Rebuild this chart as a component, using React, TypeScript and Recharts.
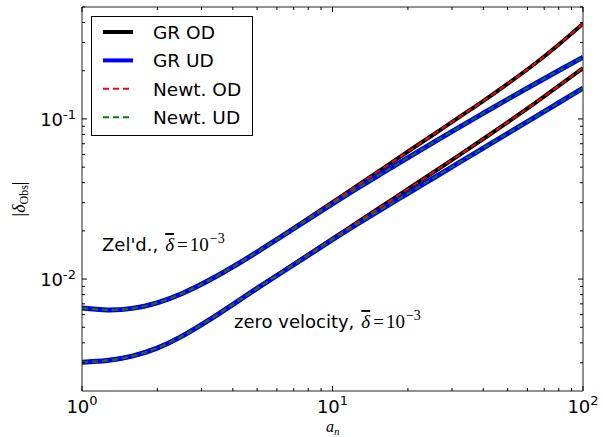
import React from 'react';
import { LineChart, Line, XAxis, YAxis, Legend } from 'recharts';

// scale factor a_n
const aValues = [1, 1.259, 1.585, 1.995, 2.512, 3.162, 3.981, 5.012, 6.31, 7.943, 10, 12.59, 15.85, 19.95, 25.12, 31.62, 39.81, 50.12, 63.1, 79.43, 100];

// Zel'dovich initial conditions
const zelGrOD = [0.00659, 0.00641, 0.00656, 0.00711, 0.00813, 0.00968, 0.01186, 0.01479, 0.01866, 0.02371, 0.0302, 0.0385, 0.049, 0.0624, 0.0794, 0.1012, 0.1288, 0.166, 0.2163, 0.2884, 0.3936];
const zelGrUD = [0.00659, 0.00641, 0.00656, 0.00711, 0.00813, 0.00968, 0.01186, 0.01479, 0.01858, 0.02344, 0.0295, 0.037, 0.046, 0.0571, 0.0708, 0.0877, 0.1081, 0.133, 0.1629, 0.1991, 0.2427];
const zelNewtOD = [0.00659, 0.00641, 0.00656, 0.00711, 0.00813, 0.00968, 0.01186, 0.01479, 0.01866, 0.02371, 0.0302, 0.0385, 0.049, 0.0624, 0.0794, 0.1012, 0.1288, 0.166, 0.2163, 0.2884, 0.3936];
const zelNewtUD = [0.00659, 0.00641, 0.00656, 0.00711, 0.00813, 0.00968, 0.01186, 0.01479, 0.01858, 0.02344, 0.0295, 0.037, 0.046, 0.0571, 0.0708, 0.0877, 0.1081, 0.133, 0.1629, 0.1991, 0.2427];

// zero velocity initial conditions
const zeroGrOD = [0.003027, 0.003097, 0.003304, 0.003707, 0.004406, 0.005458, 0.006902, 0.00877, 0.01112, 0.01409, 0.01786, 0.02265, 0.02871, 0.03639, 0.04613, 0.05861, 0.07464, 0.0955, 0.123, 0.1596, 0.208];
const zeroGrUD = [0.003027, 0.003097, 0.003304, 0.003707, 0.004406, 0.005458, 0.006902, 0.00877, 0.01107, 0.01396, 0.01762, 0.02208, 0.02754, 0.0342, 0.04246, 0.05272, 0.06546, 0.08128, 0.1009, 0.1253, 0.1556];
const zeroNewtOD = [0.003027, 0.003097, 0.003304, 0.003707, 0.004406, 0.005458, 0.006902, 0.00877, 0.01112, 0.01409, 0.01786, 0.02265, 0.02871, 0.03639, 0.04613, 0.05861, 0.07464, 0.0955, 0.123, 0.1596, 0.208];
const zeroNewtUD = [0.003027, 0.003097, 0.003304, 0.003707, 0.004406, 0.005458, 0.006902, 0.00877, 0.01107, 0.01396, 0.01762, 0.02208, 0.02754, 0.0342, 0.04246, 0.05272, 0.06546, 0.08128, 0.1009, 0.1253, 0.1556];

const xMajorTicks = [1, 10, 100];
const xMinorTicks = [2, 3, 4, 5, 6, 7, 8, 9, 20, 30, 40, 50, 60, 70, 80, 90];
const yMajorTicks = [0.01, 0.1];
const yMinorTicks = [0.003, 0.004, 0.005, 0.006, 0.007, 0.008, 0.009, 0.02, 0.03, 0.04, 0.05, 0.06, 0.07, 0.08, 0.09, 0.2, 0.3, 0.4, 0.5];

const legendLabels = ['GR OD', 'GR UD', 'Newt. OD', 'Newt. UD'];
const legendColors = ['#000000', '#0000ff', '#ff0000', '#008000'];

const data = aValues.map((a, i) => ({
  a,
  zelGrOD: zelGrOD[i],
  zelGrUD: zelGrUD[i],
  zelNewtOD: zelNewtOD[i],
  zelNewtUD: zelNewtUD[i],
  zeroGrOD: zeroGrOD[i],
  zeroGrUD: zeroGrUD[i],
  zeroNewtOD: zeroNewtOD[i],
  zeroNewtUD: zeroNewtUD[i],
}));

const isMajor = (v: number, list: number[]) => list.some((m) => Math.abs(v - m) / m < 1e-6);
const SANS = 'DejaVu Sans, sans-serif';
const SERIF = 'Liberation Serif, DejaVu Serif, serif';

const makeXTick = (side: 'bottom' | 'top') => (props: any) => {
  const { x, y, payload } = props;
  const v = payload.value as number;
  const major = isMajor(v, xMajorTicks);
  const len = major ? 5 : 3;
  const dir = side === 'bottom' ? -1 : 1;
  const exp = Math.round(Math.log10(v));
  return (
    <g>
      <line x1={x} x2={x} y1={y} y2={y + dir * len} stroke="#000" strokeWidth={1} />
      {major && side === 'bottom' && (
        <text x={x} y={y + 22} textAnchor="middle" fontFamily={SANS} fontSize={18} fill="#000">
          10<tspan dy={-8} fontSize={13}>{String(exp)}</tspan>
        </text>
      )}
    </g>
  );
};

const makeYTick = (side: 'left' | 'right') => (props: any) => {
  const { x, y, payload } = props;
  const v = payload.value as number;
  const major = isMajor(v, yMajorTicks);
  const len = major ? 5 : 3;
  const dir = side === 'left' ? 1 : -1;
  const exp = Math.round(Math.log10(v));
  return (
    <g>
      <line x1={x} x2={x + dir * len} y1={y} y2={y} stroke="#000" strokeWidth={1} />
      {major && side === 'left' && (
        <text x={x - 6} y={y + 7} textAnchor="end" fontFamily={SANS} fontSize={18} fill="#000">
          10<tspan dy={-7} fontSize={13}>{String(exp)}</tspan>
        </text>
      )}
    </g>
  );
};

const renderLegend = () => (
  <div
    style={{
      width: 162,
      height: 120,
      border: '1px solid #000',
      background: '#fff',
      boxSizing: 'border-box',
    }}
  >
    <svg width={160} height={118}>
      {legendLabels.map((label, i) => {
        const yy = 15 + i * 28.4;
        const dashed = i >= 2;
        return (
          <g key={label}>
            <line
              x1={11}
              x2={41}
              y1={yy}
              y2={yy}
              stroke={legendColors[i]}
              strokeWidth={dashed ? 2 : 4}
              strokeDasharray={dashed ? '6 4' : undefined}
            />
            <text x={61} y={yy + 7} fontFamily={SANS} fontSize={18.5} fill="#000">
              {label}
            </text>
          </g>
        );
      })}
    </svg>
  </div>
);

const MathPart = () => (
  <>
    <tspan dx={7} fontFamily={SERIF} fontStyle="italic" fontSize={19} style={{ textDecoration: 'overline' }}>
      δ
    </tspan>
    <tspan dx={3} fontFamily={SERIF} fontSize={19}>=</tspan>
    <tspan dx={2} fontFamily={SERIF} fontSize={19}>10</tspan>
    <tspan dx={1} dy={-8} fontFamily={SERIF} fontSize={14}>{'\u22123'}</tspan>
  </>
);

export default function App() {
  const lineCommon = { dot: false, isAnimationActive: false, type: 'natural' as const, activeDot: false };
  return (
    <div style={{ position: 'absolute', left: 0, top: 0, width: 603, height: 437, background: '#fff' }}>
      <LineChart width={603} height={437} data={data} margin={{ top: 0, right: 0, bottom: 0, left: 0 }}>
        <XAxis
          dataKey="a"
          type="number"
          scale="log"
          domain={[1, 100]}
          allowDataOverflow
          ticks={[...xMajorTicks, ...xMinorTicks]}
          interval={0}
          height={46}
          tickSize={0}
          tickMargin={0}
          tickLine={false}
          axisLine={{ stroke: '#222', strokeWidth: 1 }}
          tick={makeXTick('bottom')}
        />
        <XAxis
          xAxisId="top"
          orientation="top"
          dataKey="a"
          type="number"
          scale="log"
          domain={[1, 100]}
          allowDataOverflow
          ticks={[...xMajorTicks, ...xMinorTicks]}
          interval={0}
          height={7}
          tickSize={0}
          tickMargin={0}
          tickLine={false}
          axisLine={{ stroke: '#222', strokeWidth: 1 }}
          tick={makeXTick('top')}
        />
        <YAxis
          type="number"
          scale="log"
          domain={[0.002, 0.5]}
          allowDataOverflow
          ticks={[...yMajorTicks, ...yMinorTicks]}
          interval={0}
          width={82}
          tickSize={0}
          tickMargin={0}
          tickLine={false}
          axisLine={{ stroke: '#222', strokeWidth: 1 }}
          tick={makeYTick('left')}
        />
        <YAxis
          yAxisId="right"
          orientation="right"
          type="number"
          scale="log"
          domain={[0.002, 0.5]}
          allowDataOverflow
          ticks={[...yMajorTicks, ...yMinorTicks]}
          interval={0}
          width={20}
          tickSize={0}
          tickMargin={0}
          tickLine={false}
          axisLine={{ stroke: '#222', strokeWidth: 1 }}
          tick={makeYTick('right')}
        />
        <Legend
          layout="vertical"
          align="center"
          verticalAlign="middle"
          content={renderLegend}
          wrapperStyle={{ position: 'absolute', left: 91, top: 16, width: 162, height: 120 }}
        />
        <Line {...lineCommon} dataKey="zelGrOD" stroke="#000000" strokeWidth={4} />
        <Line {...lineCommon} dataKey="zeroGrOD" stroke="#000000" strokeWidth={4} />
        <Line {...lineCommon} dataKey="zelGrUD" stroke="#0000ff" strokeWidth={5} />
        <Line {...lineCommon} dataKey="zeroGrUD" stroke="#0000ff" strokeWidth={5} />
        <Line {...lineCommon} dataKey="zelNewtOD" stroke="#ff0000" strokeWidth={2} strokeDasharray="6 4" />
        <Line {...lineCommon} dataKey="zeroNewtOD" stroke="#ff0000" strokeWidth={2} strokeDasharray="6 4" />
        <Line {...lineCommon} dataKey="zelNewtUD" stroke="#008000" strokeWidth={2} strokeDasharray="6 4" />
        <Line {...lineCommon} dataKey="zeroNewtUD" stroke="#008000" strokeWidth={2} strokeDasharray="6 4" />
      </LineChart>
      <svg
        width={603}
        height={437}
        style={{ position: 'absolute', left: 0, top: 0, pointerEvents: 'none' }}
      >
        <text x={102} y={251} fontFamily={SANS} fontSize={18} fill="#000">
          {"Zel'd.,"}
          <MathPart />
        </text>
        <text x={234} y={328} fontFamily={SANS} fontSize={18} fill="#000">
          {'zero velocity,'}
          <MathPart />
        </text>
        <text
          x={25}
          y={199}
          transform="rotate(-90 25 199)"
          textAnchor="middle"
          fontFamily={SERIF}
          fontSize={18}
          fill="#000"
        >
          {'|'}
          <tspan fontStyle="italic">δ</tspan>
          <tspan fontSize={12} dy={3}>Obs</tspan>
          <tspan dy={-3}>{'|'}</tspan>
        </text>
        <text x={326} y={432} fontFamily={SERIF} fontSize={16} fontStyle="italic" fill="#000">
          a<tspan fontSize={11} dy={3}>n</tspan>
        </text>
      </svg>
    </div>
  );
}
